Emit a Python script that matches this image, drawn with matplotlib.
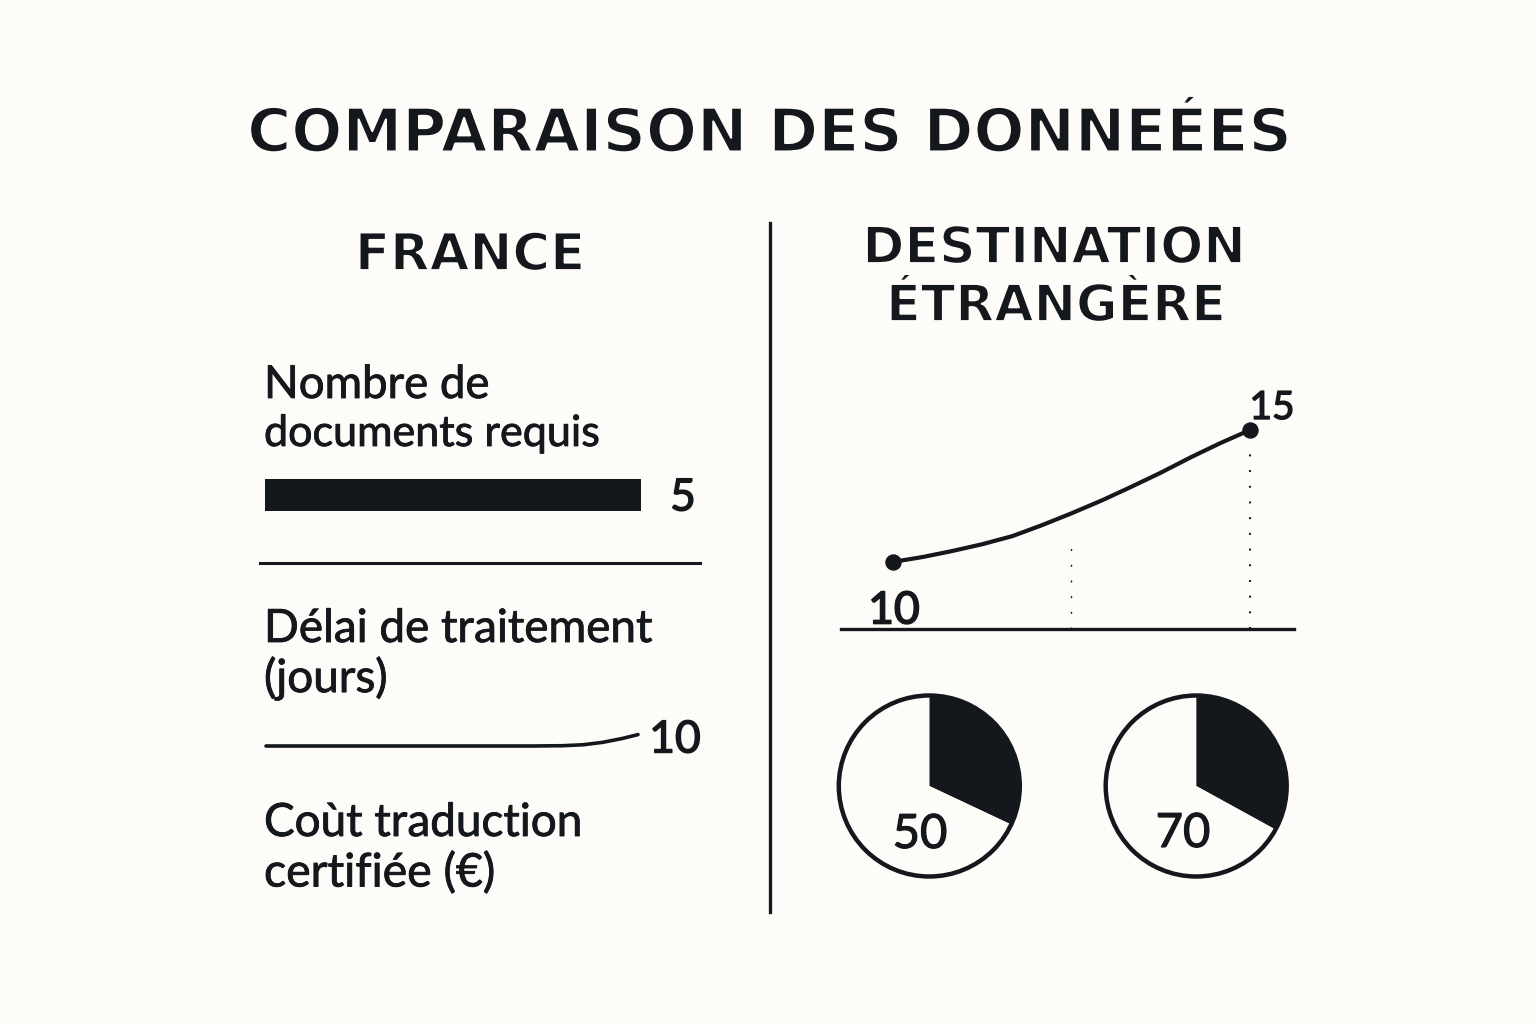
import matplotlib
matplotlib.use("Agg")
import matplotlib.pyplot as plt
import matplotlib.patheffects as pe
from matplotlib.lines import Line2D

plt.rcParams["lines.scale_dashes"] = False

W, H = 1536, 1024
INK = "#14181d"
BG = "#fdfcf9"
BODY = ["Lato", "DejaVu Sans"]
HEAD = ["DejaVu Sans"]

title = "COMPARAISON DES DONNEÉES"
left_heading = "FRANCE"
right_heading = ["DESTINATION", "ÉTRANGÈRE"]
metric_labels = [["Nombre de", "documents requis"],
                 ["Délai de traitement", "(jours)"],
                 ["Coùt traduction", "certifiée (€)"]]
documents_france = 5
delay_x = [0, 40, 80, 120, 160, 200, 240, 270, 300, 320, 340, 360, 376]
delay_y = [9.6, 9.6, 9.6, 9.6, 9.6, 9.6, 9.6, 9.6, 9.61, 9.64, 9.72, 9.85, 9.98]
curve_x = [0, 0.17, 0.33, 0.5, 0.67, 0.83, 1, 1.17, 1.33, 1.5, 1.67, 1.83, 2]
curve_y = [10, 10.19, 10.41, 10.67, 10.98, 11.38, 11.84, 12.33, 12.83, 13.38, 13.97, 14.49, 15]
drop_x = [1, 2]
drop_top = [10.7, 14.3]
pie_labels = ["50", "70"]
pie_shares = [[32, 68], [33, 67]]

fig = plt.figure(figsize=(W / 100, H / 100), dpi=100, facecolor=BG)


def axpx(x0, y0, x1, y1):
    ax = fig.add_axes([x0 / W, 1 - y1 / H, (x1 - x0) / W, (y1 - y0) / H])
    ax.patch.set_alpha(0)
    return ax


def txt(x, y, s, size, ha="center", weight="normal", family=BODY, grow=0.6, thin=0):
    t = fig.text(x / W, 1 - y / H, s, fontsize=size, ha=ha, va="center",
                 family=family, weight=weight, color=INK)
    if thin:
        t.set_path_effects([pe.Normal(), pe.Stroke(linewidth=thin, foreground=BG)])
    elif grow:
        t.set_path_effects([pe.withStroke(linewidth=grow, foreground=INK)])


txt(769, 135, title, 43.3, weight="bold", family=HEAD, thin=1.5)
txt(470, 256, left_heading, 37, weight="bold", family=HEAD, thin=1.3)
txt(1054, 249, right_heading[0], 36.5, weight="bold", family=HEAD, thin=1.3)
txt(1056, 307, right_heading[1], 36.5, weight="bold", family=HEAD, thin=1.3)

sizes = [(32.8, 31), (33, 33), (33, 33.4)]
for (a, b), ya, yb, (sa, sb) in zip(metric_labels, [385, 629, 823], [434, 678, 873], sizes):
    txt(264, ya, a, sa, ha="left")
    txt(264, yb, b, sb, ha="left")

# Bar
ax = axpx(265, 479, 641, 511)
ax.barh([0], [documents_france], height=1, color=INK, edgecolor=INK, lw=1.5, joinstyle="round")
ax.set_xlim(0, documents_france)
ax.set_ylim(-0.5, 0.5)
ax.axis("off")
txt(683, 498, str(documents_france), 32, grow=1.0)

# Separators
fig.add_artist(Line2D([260 / W, 700 / W], [1 - 563 / H] * 2, color=INK, lw=2.2))
fig.add_artist(Line2D([770 / W] * 2, [1 - 223 / H, 1 - 912 / H], color=INK, lw=2.4))

# Delay line
ax = axpx(266, 720, 638, 760)
ax.plot(delay_x, delay_y, color=INK, lw=2.6, solid_capstyle="round", clip_on=False)
ax.set_xlim(0, 376)
ax.set_ylim(9.6 - 14 / 30, 9.6 + 26 / 30)
ax.axis("off")
txt(675, 740, "10", 32, grow=1.0)

# Curve
ax = axpx(841, 400, 1294, 629)
ax.plot(curve_x, curve_y, color=INK, lw=3, solid_capstyle="round")
ax.plot([curve_x[0], curve_x[-1]], [curve_y[0], curve_y[-1]], "o", color=INK, ms=10.8)
ax.vlines(drop_x, 7.46, drop_top, color=INK, linewidths=[1.0, 1.5],
          linestyles=[(0, (1.4, 9.9))])
ax.set_xlim(-0.29, 2.246)
ax.set_ylim(7.46, 7.46 + 229 / 26.4)
for s in ["top", "left", "right"]:
    ax.spines[s].set_visible(False)
ax.spines["bottom"].set_linewidth(2.4)
ax.spines["bottom"].set_color(INK)
ax.set_xticks([])
ax.set_yticks([])
txt(894, 611, "10", 32, grow=1.2)
txt(1272, 408, "15", 28, grow=1.0)

# Pies
for cx, lab, lx, ly, sh in zip([929.3, 1196.2], pie_labels, [920, 1183], [835, 834], pie_shares):
    r = 90.5
    ax = axpx(cx - r, 786 - r, cx + r, 786 + r)
    ax.pie(sh, colors=[INK, BG], startangle=90, counterclock=False, radius=1,
           wedgeprops=dict(linewidth=0))
    ax.add_patch(plt.Circle((0, 0), 1, fill=False, ec=INK, lw=3.2, clip_on=False))
    ax.set_xlim(-1, 1)
    ax.set_ylim(-1, 1)
    txt(lx, ly, lab, 34, grow=0.8)

fig.savefig("out.png", dpi=100, facecolor=BG)
